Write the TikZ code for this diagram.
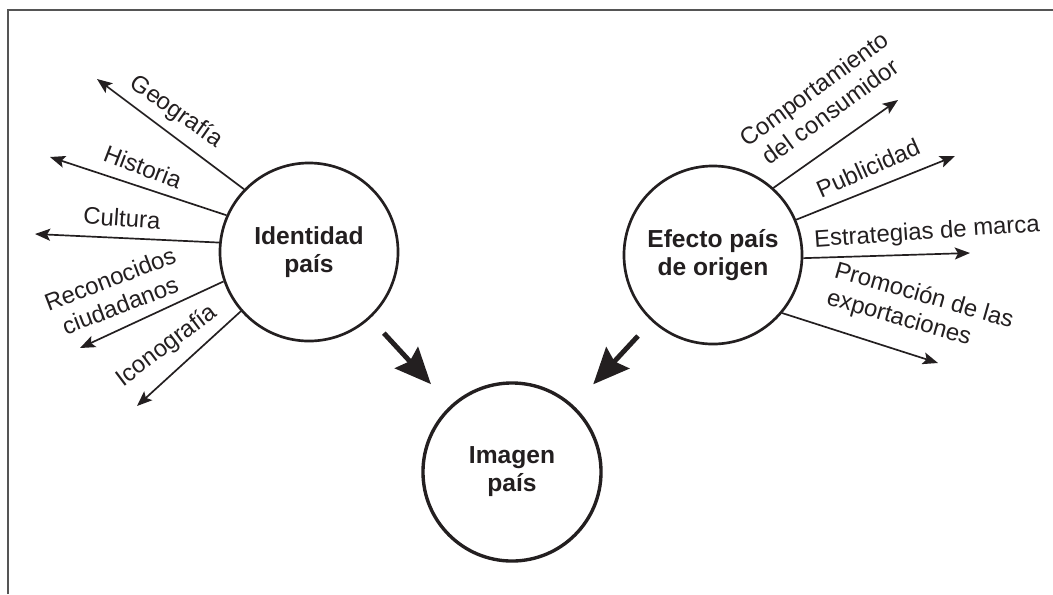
\documentclass[tikz,border=0pt]{standalone}
\usepackage{fontspec}
\setmainfont{Liberation Sans}
\usetikzlibrary{arrows.meta}
\definecolor{InkBlack}{HTML}{231F20}
\definecolor{FrameGrey}{HTML}{555555}

\begin{document}
\begin{tikzpicture}[x=0.025cm,y=-0.025cm,>=Stealth,
  font=\fontsize{17}{20}\selectfont,
  theme/.style={circle,draw=InkBlack,line width=1.9pt,minimum size=4.45cm,
    inner sep=0pt,align=center,text=InkBlack,
    font=\fontsize{17.5}{20}\selectfont\bfseries},
  branch/.style={-{Stealth[length=0.38cm,width=0.3cm,inset=0.08cm]},
    draw=InkBlack,line width=1.2pt},
  flow/.style={-{Stealth[length=0.9cm,width=0.78cm,inset=0.12cm]},
    draw=InkBlack,line width=3.5pt,shorten <=0.5cm,shorten >=0.72cm},
  tag/.style={inner sep=0pt,text=InkBlack,align=center}]
  \useasboundingbox (0,0) rectangle (1053,594);
  \draw[FrameGrey,line width=1pt] (8,594) -- (8,10) -- (1053,10);

  \node[theme] (idp) at (309,252) {Identidad\\país};
  \node[theme] (efo) at (713,255) {Efecto país\\de origen};
  \node[theme,line width=2.4pt] (img) at (512,472) {Imagen\\país};

  \draw[flow] (idp) -- (img);
  \draw[flow] (efo) -- (img);

  \foreach \nm/\src/\a/\x/\y/\cx/\cy/\r/\txt in {
      geo/idp/136/97/79/176/112/-35/Geografía,
      his/idp/156/50/157/143/167/-21/Historia,
      cul/idp/174/35/234/122/218/-4/Cultura,
      rec/idp/199/80/348/115/292/21/{Reconocidos\\ciudadanos},
      ico/idp/221/137/406/167/346/37/Iconografía,
      com/efo/48/898/100/822/100/36/{Comportamiento\\del consumidor},
      pub/efo/23/955/156/868/168/24/Publicidad,
      est/efo/-2/970/253/927/233/4/Estrategias de marca}{
    \coordinate (\nm) at (\x,\y);
    \draw[branch] (\src.\a) -- (\nm);
    \node[tag,rotate=\r] (l\nm) at (\cx,\cy) {\txt};
  }
  \coordinate (pro) at (938,363);
  \draw[branch] (efo.-40) -- (pro);
  \node[tag,rotate=-16,align=left] (lpro) at (920,310) {Promoción de las\\exportaciones};
\end{tikzpicture}
\end{document}
